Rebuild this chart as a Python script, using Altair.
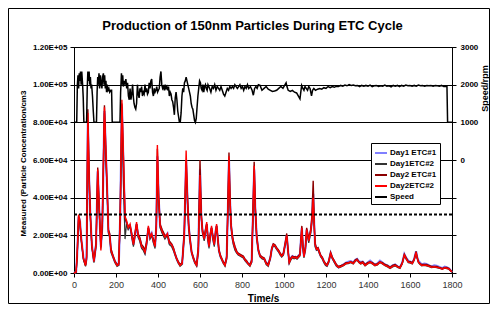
import altair as alt
import pandas as pd

# ---------------- data ----------------
time_s = [0,10,15,22,28,35,45,55,60,66,
          72,78,85,95,105,113,120,128,135,145,
          152,158,164,170,176,185,195,205,213,220,
          228,236,243,250,258,267,275,283,290,298,
          305,313,322,330,338,346,354,362,370,378,
          386,392,397,403,410,420,433,445,454,465,
          473,481,489,497,505,515,525,534,540,546,
          552,560,568,576,584,592,600,606,612,620,
          626,632,638,643,649,655,661,668,674,679,
          685,690,697,703,711,719,727,733,738,743,
          748,754,759,767,775,782,790,798,806,814,
          822,830,838,846,852,858,863,870,878,886,
          896,906,915,925,935,942,949,957,965,975,
          982,989,997,1005,1013,1020,1025,1033,1040,1048,
          1055,1062,1068,1076,1081,1085,1090,1095,1102,1108,
          1113,1118,1123,1127,1133,1139,1144,1148,1155,1162,
          1168,1175,1182,1190,1198,1205,1213,1222,1230,1240,
          1250,1260,1272,1283,1295,1306,1318,1330,1340,1348,
          1356,1365,1375,1386,1398,1410,1421,1433,1445,1457,
          1469,1481,1493,1505,1517,1529,1541,1552,1563,1573,
          1582,1592,1602,1611,1620,1629,1634,1640,1648,1656,
          1668,1679,1691,1703,1715,1727,1740,1754,1765,1775,
          1785,1793,1800]

# particle concentrations in thousands of particles / cm3
day1_etc1 = [0,0.5,9.5,30,28,18,8,4.5,8,80,
             49,30,15,6,15,54,34,14,25,86,
             63,44,22,20,12,9,6,4.5,4.5,29,
             89,55,28,27,24,25,20,15,20,26,
             20,18,14,13,11,16,24,19,21,17,
             14,25,62,40,25,22,19,21,16,15,
             13,10,7.5,5.5,4.5,5,20,60,40,25,
             18,11,8,5.5,4.5,12,55,30,22,18,
             22,26,18,14,20,24,19,15,22,25,
             18,12,9,7.5,5.5,4.5,8,34,60,38,
             25,19,16,13,11,10,9.5,9,8.5,7,
             6,5,4.5,6,29,55,34,19,12,9,
             8,7.5,5.5,4.5,8,13,15,14.5,13,11.5,
             10,9,10,15,20,11,6,8,9,8.5,
             8.5,8,9,10,18,24,14,9,13,23,
             20,17,20,22,28,42,25,15,12.5,13,
             11,9,8,6,4.5,4,6,10.5,8,6,
             4,3,3.8,4.5,5.5,6,6.3,5.5,7,7.5,
             6.3,5.8,6,4.5,5.5,6.5,5.5,4.5,5,6.5,
             5.5,4.5,4,3,4,4.5,3.5,3,5.5,10,
             8,6.5,6,5.5,7.5,11.5,8.5,6.5,5.5,4.5,
             5,4.8,4,3.5,4,3.8,3.2,2.5,3.3,3,
             2.5,1.5,0.5]

day1_etc2 = [0,0.3,8,29,27,17,7,3.5,7,80,
             48,29,14,5.5,14,53,33,13,24,85,
             60,43,21,19,11,8.5,5.5,3.5,4,28,
             88,45,18,26,23,25,19,14,19,26,
             19,17,13,12,10,15,24,18,20,16,
             13,24,50,38,24,21,18,20,15,14,
             12,9.5,7,5,3.5,4.5,19,58,38,24,
             17,10.5,7.5,5,3.5,11,50,29,21,17,
             21,26,17,13,19,24,18,14,21,25,
             17,11.5,8.5,7,5,3.5,7.5,33,58,36,
             24,18,15,12,10.5,9.5,9,8.5,8,6.5,
             5.5,4.5,3.5,5.5,28,54,33,18,11.5,8.5,
             7.5,7,4.5,3.5,7.5,12.5,14.5,14,12.5,11,
             9.5,8.5,9.5,14.5,19,10.5,5,7,8,7.5,
             7.8,7.3,8,9,17,23,13,8,12.5,22,
             19,16,19,21,27,38,24,14,12,12.5,
             10.5,8.5,7.5,5.5,4,3.5,5.5,10,7.5,5.5,
             3.5,2.8,3.2,3.8,4.8,5,5.5,4.8,6.2,6.8,
             5.5,4.8,5.2,3.8,4.8,5.5,4.8,3.8,4.2,5.5,
             4.8,3.8,3.2,2.4,3.2,3.8,3,2.4,4.8,9,
             7.2,5.5,5.2,4.8,6.8,10.5,7.8,5.5,4.5,3.8,
             4,3.8,3.3,2.8,3.1,2.8,2.5,1.9,2.6,2.3,
             2,1,0.4]

day2_etc1 = [0,0.5,9,30,27,17,7.5,4,9,87,
             52,31,14,6.5,16,56,34,14,26,89,
             62,44,23,21,13,9.5,6.5,4.5,5,32,
             90,58,29,27,25,25,21,16,21,26,
             21,19,15,14,12,17,24,20,20,18,
             15,26,66,42,26,23,20,20,17,15.5,
             13.5,10.5,8,6,4.5,5.5,22,60,42,26,
             19,11.5,8.5,6,4.5,14,60,32,23,19,
             23,26,19,15,21,24,20,16,21,25,
             19,12.5,9.5,8,6,4.5,9,38,64,40,
             26,20,17,14,11.5,10.5,10,9.5,9,7.5,
             6.5,5,4.5,7,32,59,36,20,12.5,9.5,
             8.5,8,5.5,4.5,8.5,13.5,15.5,15,13.5,12,
             10.5,9.5,10.5,15.5,21,11.5,6,8,9,8.5,
             8.8,8.2,9,10,19,25,15,9,14,24,
             21,18,21,23,30,49,27,16,13,13.5,
             11.5,9.5,8.5,6.5,5,4.5,6.5,11,8.5,6.5,
             4.5,3.5,4,4.5,5.5,5.5,6,5.5,7,7.5,
             6,5.5,6,4.5,5.5,6,5.5,4.5,5,6,
             5.5,4.5,4,3,4,4.5,3.5,3,5.5,10,
             8,6,6,5.5,7.5,11.5,8.5,6,5,4.5,
             4.5,4.5,4,3.5,3.5,3.5,3,2.5,3,3,
             2.5,1.5,0.8]

day2_etc2 = [0,0.5,10,31,28,18,8,4,8,85,
             50,30,15,6,15,55,35,12,30,88,
             65,45,22,20,12,9,6,4,4.5,30,
             92,60,30,28,24,26,20,15,20,27,
             20,18,14,13,11,16,25,19,21,17,
             14,25,68,40,25,22,19,21,16,15,
             13,10,7.5,5.5,4,5,20,65,40,25,
             18,11,8,5.5,4,12,52,30,22,18,
             22,27,18,14,20,25,19,15,22,26,
             18,12,9,7.5,5.5,4,8,35,62,38,
             25,19,16,13,11,10,9.5,9,8.5,7,
             6,4.8,4,6,30,57,35,19,12,9,
             8,7.5,5,4,8,13,15,14.5,13,11.5,
             10,9,10,15,20,11,5.5,7.5,8.5,8,
             8.3,7.8,8.5,9.5,18,24,14,8.5,13,23,
             20,17,20,22,28,40,25,15,12.5,13,
             11,9,8,6,4.5,4,6,10.5,8,6,
             4,3,3.5,4,5,5.3,5.8,5,6.5,7,
             5.8,5,5.5,4,5,5.8,5,4,4.5,5.8,
             5,4,3.5,2.6,3.5,4,3.2,2.6,5,9.5,
             7.5,5.8,5.5,5,7,11,8,5.8,4.8,4,
             4.2,4,3.5,3,3.3,3,2.7,2,2.8,2.5,
             2.2,1.2,0.5]

speed_time = [0,13,16,19,22,25,28,31,34,37,41,44,47,60,63,66,69,72,75,78,81,84,88,92,95,
              107,110,113,116,119,122,126,129,133,136,140,143,146,149,152,155,158,162,166,170,175,179,182,
              219,222,226,229,232,235,239,243,247,251,255,259,263,267,271,275,279,283,286,290,294,298,
              302,306,310,314,318,322,326,330,334,338,342,346,350,354,358,362,366,370,374,378,382,386,
              390,394,398,402,406,410,414,418,422,426,430,434,438,442,446,450,454,458,462,466,470,474,
              478,482,486,490,494,498,502,506,510,514,518,522,526,530,534,538,542,546,550,554,558,562,
              566,570,574,578,582,586,590,594,598,602,606,610,614,618,622,626,630,634,638,642,646,652,
              658,664,670,676,682,688,694,700,706,712,718,724,730,736,742,748,754,760,766,772,778,784,
              790,796,802,808,814,820,826,832,840,848,854,860,866,872,878,886,895,905,915,925,935,945,
              955,965,975,985,995,1005,1010,1014,1020,1030,1040,1050,1060,1068,1076,1080,1084,1090,1095,
              1100,1106,1112,1118,1124,1131,1136,1142,1150,1160,1170,1180,1190,1200,1210,1220,1230,1240,
              1250,1260,1270,1280,1290,1300,1310,1320,1330,1340,1350,1360,1370,1380,1390,1400,1410,1420,
              1430,1440,1450,1460,1470,1480,1490,1500,1510,1520,1530,1540,1550,1560,1570,1580,1590,1600,
              1610,1620,1630,1640,1650,1660,1670,1680,1690,1700,1710,1720,1730,1740,1750,1760,1770,1776,
              1779,1800]
speed_rpm = [1000,1000,2000,2250,1900,2300,2100,2350,2000,2350,2000,1650,1000,1000,1900,2350,2100,2350,2000,2200,1900,2000,1700,1280,1000,
             1000,1800,2200,2000,2300,1900,2250,2050,1900,2200,2300,2000,2250,1900,2100,1800,2000,1850,1900,1800,1850,1850,1000,
             1000,1800,2300,2000,2250,1950,2100,2000,2150,1900,2050,1700,1600,1900,1600,1750,2000,1650,1500,1400,1350,1500,
             2000,1750,1650,1900,1800,1950,1700,1800,1750,2000,1800,1900,1750,1800,2050,1900,2100,2150,1800,1700,1900,1800,
             1850,1950,1800,1850,1900,2200,2350,2000,1900,1950,1850,2000,1900,1950,1850,1950,1700,1800,1750,1600,1550,1400,
             1200,1650,1800,1600,1300,1150,1000,1000,1250,1700,1900,1800,2050,2100,2200,2100,2000,1900,1800,1700,1500,1400,
             1350,1200,1050,1000,1100,1400,1700,1900,2100,2050,1900,1850,2000,1800,1950,2000,1900,1850,2000,1950,1900,1800,
             1950,1900,2000,1850,1950,1900,1850,1950,1850,1750,1700,1800,1900,1850,1950,1900,1950,1900,2000,1950,1900,1950,
             2000,1900,1950,1850,1950,1900,2000,1900,1950,1850,1720,1900,1950,1900,2000,1980,1850,1900,1950,1880,1850,1820,
             1830,1850,1900,1950,1900,2000,2050,1950,1850,1820,1850,1800,1780,1700,1620,1800,1980,1900,1850,
             1950,1900,1850,1950,1900,1700,1850,1900,1850,1880,1900,1880,1920,1900,1950,1920,1950,1930,
             1960,1950,1980,1960,1990,1970,2000,1980,1990,1970,1980,1950,1980,1960,1980,1960,1990,1950,
             1970,1980,1950,1970,1960,1990,1960,1970,1940,1980,1960,1980,1950,1980,1960,1990,1970,1980,
             1960,1980,1960,1990,1970,1980,1960,1980,1970,1980,1960,1980,1970,1960,1980,1950,1960,1950,
             1000,1000]

series_names = ["Day1 ETC#1", "Day1ETC#2", "Day2 ETC#1", "Day2ETC#2", "Speed"]
series_colors = ["#8080ff", "#333333", "#8b0000", "#ff0000", "#000000"]
series_widths = [2.2, 1.2, 1.4, 1.4]

x_ticks = [0, 200, 400, 600, 800, 1000, 1200, 1400, 1600, 1800]
y_ticks = [0, 20000, 40000, 60000, 80000, 100000, 120000]
y_tick_labels = ["0.00E+00", "2.00E+04", "4.00E+04", "6.00E+04", "8.00E+04", "1.00E+05", "1.20E+05"]
speed_ticks = [-3000, -2000, -1000, 0, 1000, 2000, 3000]
speed_tick_labels = ["", "", "", "0", "1000", "2000", "3000"]
threshold = [31000]

title_text = "Production of 150nm Particles During ETC Cycle"
x_title = "Time/s"
y_title = "Measured (Particle Concentration/cm3"
speed_title = "Speed/rpm"

FONT = "Liberation Sans"

# ---------------- build tables ----------------
conc_lists = [day1_etc1, day1_etc2, day2_etc1, day2_etc2]
rows = []
for name, vals in zip(series_names[:4], conc_lists):
    assert len(vals) == len(time_s), (name, len(vals), len(time_s))
    for t, v in zip(time_s, vals):
        rows.append({"time": t, "conc": v * 1000, "series": name})
conc_df = pd.DataFrame(rows)
assert len(speed_time) == len(speed_rpm), (len(speed_time), len(speed_rpm))
speed_df = pd.DataFrame({"time": speed_time, "rpm": speed_rpm, "series": "Speed"})
thr_df = pd.DataFrame({"conc": threshold})
frame_df = pd.DataFrame({"k": [0]})
title_df = pd.DataFrame({"title": [title_text]})

left_expr = " : ".join(f"datum.value == {v} ? '{s}'" for v, s in zip(y_ticks, y_tick_labels)) + " : ''"
right_expr = " : ".join(f"datum.value == {v} ? '{s}'" for v, s in zip(speed_ticks, speed_tick_labels)) + " : ''"

color_scale = alt.Scale(domain=series_names, range=series_colors)
legend = alt.Legend(title=None, orient="none", legendX=297, legendY=96, direction="vertical",
                    fillColor="white", strokeColor="black", padding=3,
                    symbolType="stroke", symbolSize=144, symbolStrokeWidth=2,
                    labelFont=FONT, labelFontSize=8, labelFontWeight="bold", labelColor="black",
                    rowPadding=0, labelOffset=2)

x_enc = alt.X("time:Q", scale=alt.Scale(domain=[0, 1800], nice=False),
              axis=alt.Axis(values=x_ticks, title=x_title, format="d", labelFont=FONT, labelFontSize=9,
                            labelColor="#333333", labelPadding=3, labelFlush=False, labelOverlap=False,
                            tickSize=4, tickColor="black",
                            domainColor="black", grid=False, titleFont=FONT, titleFontSize=10,
                            titleFontWeight="bold", titleColor="black", titlePadding=4))

y_conc = alt.Y("conc:Q", scale=alt.Scale(domain=[0, 120000], nice=False),
               axis=alt.Axis(values=y_ticks, labelExpr=left_expr, title=y_title,
                             labelFont=FONT, labelFontSize=8, labelFontWeight="bold", labelColor="black",
                             labelPadding=3, labelFlush=False, labelOverlap=False,
                             tickSize=4, tickColor="black", domainColor="black",
                             grid=True, gridColor="black", gridWidth=1,
                             titleFont=FONT, titleFontSize=8, titleFontWeight="bold", titleColor="black",
                             titleX=-51, titleY=116, titleAngle=270, titleAlign="center",
                             titleBaseline="middle"))

conc_layers = []
for name, w in zip(series_names[:4], series_widths):
    conc_layers.append(
        alt.Chart(conc_df).transform_filter(alt.datum.series == name)
        .mark_line(strokeWidth=w, interpolate="linear")
        .encode(x=x_enc, y=y_conc,
                color=alt.Color("series:N", scale=color_scale, legend=legend))
    )

thr_rule = alt.Chart(thr_df).mark_rule(color="black", strokeWidth=2, strokeDash=[3, 2]).encode(y=y_conc)

conc_chart = alt.layer(*conc_layers, thr_rule)

speed_chart = alt.Chart(speed_df).mark_line(strokeWidth=1.5).encode(
    x=x_enc,
    y=alt.Y("rpm:Q", scale=alt.Scale(domain=[-3000, 3000], nice=False),
            axis=alt.Axis(orient="right", values=speed_ticks, labelExpr=right_expr, title=speed_title,
                          labelFont=FONT, labelFontSize=8, labelFontWeight="bold", labelColor="black",
                          labelPadding=4, labelFlush=False, labelOverlap=False,
                          tickSize=4, tickColor="black", domainColor="black", grid=False,
                          titleFont=FONT, titleFontSize=9, titleFontWeight="bold", titleColor="black",
                          titleX=32, titleY=41, titleAngle=270, titleAlign="center",
                          titleBaseline="middle")),
    color=alt.Color("series:N", scale=color_scale, legend=legend),
)

frame = alt.Chart(frame_df).mark_rect(filled=False, stroke="black", strokeWidth=1).encode(
    x=alt.value(-65.5), x2=alt.value(415.5), y=alt.value(-38.5), y2=alt.value(256.5))

title_mark = alt.Chart(title_df).mark_text(font=FONT, fontSize=13, fontWeight="bold", color="black",
                                           align="center", baseline="alphabetic").encode(
    text="title:N", x=alt.value(178.5), y=alt.value(-17.5))

chart = alt.layer(frame, title_mark, conc_chart, speed_chart).resolve_scale(y="independent").properties(
    width=378, height=226,
    padding={"left": 66, "top": 39, "right": 38, "bottom": 31},
    autosize=alt.AutoSizeParams(type="none"),
    background="white",
).configure_view(stroke="black", strokeWidth=1)

chart.save("out.html", embed_options={"renderer": "svg", "actions": False})
